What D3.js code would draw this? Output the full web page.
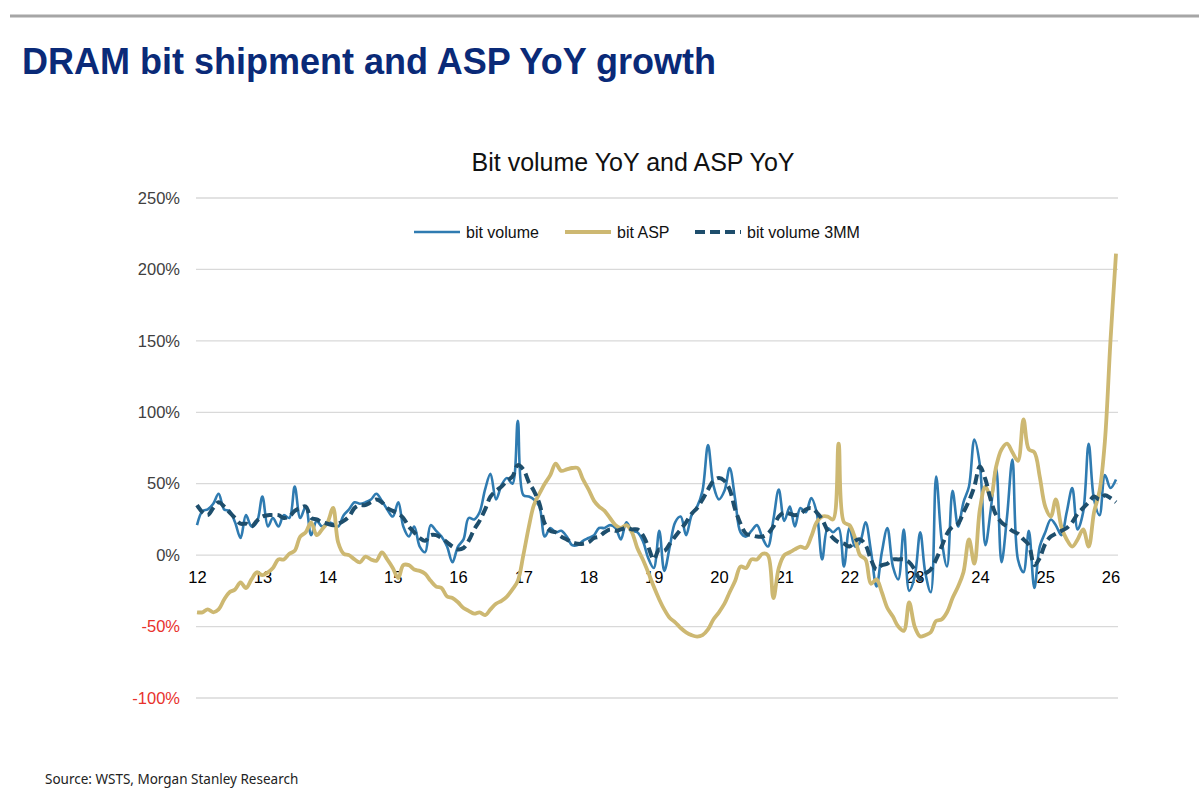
<!DOCTYPE html>
<html>
<head>
<meta charset="utf-8">
<script src="https://cdn.jsdelivr.net/npm/d3@7"></script>
<style>
  body { margin: 0; background: #fff; }
  svg { display: block; }
</style>
</head>
<body>
<script>
// year tick labels (Jan of each year)
const yearLabels = ["12", "13", "14", "15", "16", "17", "18", "19", "20", "21", "22", "23", "24", "25", "26"];

// monthly YoY %, Jan 2012 .. Feb 2026
const bitVolume = [
  21, 31, 32, 36, 43, 32, 31, 23, 12, 28, 20, 23,
  41, 20, 26, 20, 28, 26, 48, 26, 34, 14, 24, 20,
  23, 22, 20, 28, 32, 37, 36, 37, 39, 43, 38, 32,
  27, 37, 20, 13, 20, 6, 2, 21, 17, 13, 6, -5,
  6, 11, 26, 25, 30, 46, 57, 39, 49, 54, 50, 94,
  42, 41, 39, 34, 13, 19, 16, 17, 13, 7, 7, 10,
  12, 14, 19, 19, 21, 19, 11, 23, 17, 16, 10, -2,
  -9, 17, -11, 6, 23, 27, 14, 28, 34, 45, 77, 49,
  39, 45, 61, 39, 16, 13, 17, 21, 12, 6, 25, 46,
  24, 34, 20, 33, 30, 40, 30, -3, 19, 16, 19, -8,
  19, 6, 9, 23, 3, -22, 2, 19, -8, -17, 18, -25,
  -15, 16, -12, -26, 55, 11, -8, 45, 20, 37, 48, 81,
  63, 7, 31, 61, -5, 27, 67, -3, -12, 17, -23, 6,
  16, 25, 21, 14, 30, 47, 18, 30, 78, 39, 28, 56,
  47, 53
];

const bitAsp = [
  -40, -40, -38, -40, -38, -31, -26, -24, -19, -23, -17, -12,
  -14, -12, -9, -3, -3, 1, 3, 13, 16, 23, 14, 18,
  23, 33, 9, 1, 0, -3, -5, -1, -3, -4, 2, -3,
  -9, -16, -7, -7, -10, -11, -13, -18, -22, -23, -29, -30,
  -33, -37, -39, -41, -40, -42, -38, -34, -32, -29, -24, -18,
  0, 20, 35, 43, 50, 56, 64, 59, 60, 61, 61, 53,
  46, 38, 34, 31, 26, 21, 19, 21, 16, 5, -3, -12,
  -22, -31, -38, -44, -47, -51, -54, -56, -57, -56, -52, -45,
  -40, -34, -26, -18, -8, -9, -3, -3, 1, 0, -30, -9,
  0, 2, 4, 6, 5, 13, 23, 27, 27, 25, 78, 23,
  21, 12, 0, -3, -20, -17, -26, -37, -43, -50, -53, -33,
  -50, -57, -56, -54, -46, -45, -40, -30, -22, -12, 11, -6,
  32, 48, 41, 62, 74, 78, 72, 66, 95, 74, 72, 55,
  34, 27, 39, 20, 11, 6, 11, 18, 6, 30, 45, 80,
  150, 211
];

const bitVolume3mm = [
  35, 30, 28, 33, 37, 34, 30, 26, 22, 22, 20, 24,
  27, 28, 28, 28, 26, 27, 31, 33, 34, 26, 25, 23,
  22, 21, 22, 24, 27, 33, 35, 35, 37, 39, 37, 33,
  31, 29, 26, 20, 16, 12, 10, 14, 14, 12, 9, 6,
  4, 5, 10, 18, 24, 32, 41, 45, 48, 52, 55, 63,
  60, 51, 45, 36, 22, 17, 16, 13, 11, 9, 8, 8,
  9, 12, 13, 16, 18, 17, 18, 19, 18, 18, 14, 6,
  -3, 4, 3, 8, 13, 18, 23, 29, 33, 39, 46, 52,
  54, 52, 46, 32, 22, 15, 14, 13, 13, 15, 20, 27,
  30, 29, 28, 29, 32, 33, 30, 25, 17, 12, 9, 8,
  6, 10, 11, 7, -3, -10, -7, -6, -3, -3, -3, -5,
  -10, -17, -13, -10, -3, 6, 15, 20, 22, 30, 38, 48,
  62, 53, 39, 28, 23, 20, 17, 15, 11, 7, -7, -2,
  8, 13, 15, 17, 19, 23, 29, 33, 37, 41, 39, 42,
  40, 37
];

const yTicks = [-100, -50, 0, 50, 100, 150, 200, 250];

const legendItems = [
  { name: "bit volume", key: "vol" },
  { name: "bit ASP", key: "asp" },
  { name: "bit volume 3MM", key: "mm" }
];

const styles = {
  vol: { color: "#2f7bb1", width: 2.6, dash: null },
  asp: { color: "#cdb872", width: 3.8, dash: null },
  mm:  { color: "#1e4e6c", width: 4, dash: "10,5" }
};

const W = 1199, H = 802;
const plotLeft = 196, plotRight = 1118;

const months = d3.range(bitVolume.length).map(i => new Date(2012, i, 1));

const x = d3.scaleTime()
  .domain([months[0], months[months.length - 1]])
  .range([197, 1116]);

const y = d3.scaleLinear()
  .domain([-100, 250])
  .range([698, 198]);

const svg = d3.select("body").append("svg")
  .attr("width", W)
  .attr("height", H)
  .style("font-family", "'Liberation Sans', Arial, sans-serif");

// top rule
svg.append("line")
  .attr("x1", 10).attr("x2", W)
  .attr("y1", 16).attr("y2", 16)
  .attr("stroke", "#a6a6a6")
  .attr("stroke-width", 3);

// page title
svg.append("text")
  .attr("x", 22).attr("y", 74)
  .attr("font-size", 36)
  .attr("font-weight", "bold")
  .attr("fill", "#0a2a78")
  .text("DRAM bit shipment and ASP YoY growth");

// chart title
svg.append("text")
  .attr("x", 633).attr("y", 171)
  .attr("text-anchor", "middle")
  .attr("font-size", 25)
  .attr("fill", "#111")
  .text("Bit volume YoY and ASP YoY");

// gridlines
svg.append("g")
  .selectAll("line")
  .data(yTicks)
  .join("line")
  .attr("x1", plotLeft).attr("x2", plotRight)
  .attr("y1", d => y(d)).attr("y2", d => y(d))
  .attr("stroke", "#d9d9d9")
  .attr("stroke-width", 1.3);

// y axis labels
const yAxis = d3.axisLeft(y)
  .tickValues(yTicks)
  .tickFormat(d => d + "%")
  .tickSize(0)
  .tickPadding(16);

const gy = svg.append("g")
  .attr("transform", "translate(" + plotLeft + ",0)")
  .call(yAxis);
gy.select(".domain").remove();
gy.selectAll("text")
  .attr("font-size", 16.5)
  .attr("font-family", "'Liberation Sans', Arial, sans-serif")
  .attr("fill", d => d < 0 ? "#e8322c" : "#404040");

// x axis labels at 0%
const yearDates = yearLabels.map(s => new Date(2000 + (+s), 0, 1));
const xAxis = d3.axisBottom(x)
  .tickValues(yearDates)
  .tickFormat((d, i) => yearLabels[i])
  .tickSize(0)
  .tickPadding(16);

const gx = svg.append("g")
  .attr("transform", "translate(0," + y(0) + ")")
  .call(xAxis);
gx.select(".domain").remove();
gx.selectAll("text")
  .attr("font-size", 16.5)
  .attr("font-family", "'Liberation Sans', Arial, sans-serif")
  .attr("fill", "#000");

// series
const line = d3.line()
  .x((d, i) => x(months[i]))
  .y(d => y(d))
  .curve(d3.curveCatmullRom.alpha(0.5));

const series = [
  { key: "vol", values: bitVolume },
  { key: "asp", values: bitAsp },
  { key: "mm", values: bitVolume3mm }
];

svg.append("g")
  .selectAll("path")
  .data(series)
  .join("path")
  .attr("d", d => line(d.values))
  .attr("fill", "none")
  .attr("stroke", d => styles[d.key].color)
  .attr("stroke-width", d => styles[d.key].width)
  .attr("stroke-dasharray", d => styles[d.key].dash)
  .attr("stroke-linejoin", "round");

// legend
const legendX = [414, 565, 695];
const lg = svg.append("g");
legendItems.forEach((item, i) => {
  const s = styles[item.key];
  lg.append("line")
    .attr("x1", legendX[i]).attr("x2", legendX[i] + 46)
    .attr("y1", 232).attr("y2", 232)
    .attr("stroke", s.color)
    .attr("stroke-width", s.width)
    .attr("stroke-dasharray", s.dash);
  lg.append("text")
    .attr("x", legendX[i] + 52).attr("y", 238)
    .attr("font-size", 16)
    .attr("fill", "#111")
    .text(item.name);
});

// source
svg.append("text")
  .attr("x", 45).attr("y", 784)
  .attr("font-size", 13.5)
  .attr("font-family", "'Noto Sans', 'Open Sans', sans-serif")
  .attr("fill", "#222")
  .text("Source: WSTS, Morgan Stanley Research");
</script>
</body>
</html>
